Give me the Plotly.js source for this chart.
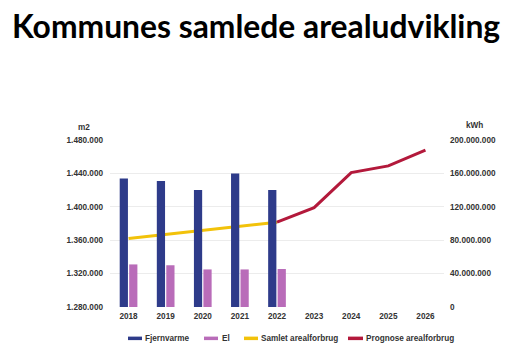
<!DOCTYPE html>
<html>
<head>
<meta charset="utf-8">
<script src="https://cdn.plot.ly/plotly-3.0.1.min.js"></script>
<style>html,body{margin:0;padding:0;background:#fff;}#chart{width:527px;height:353px;}</style>
</head>
<body>
<div id="chart"></div>
<script>
const years = ['2018','2019','2020','2021','2022','2023','2024','2025','2026'];
const barYears = ['2018','2019','2020','2021','2022'];
const fjernvarme = [154000000, 151000000, 140000000, 160000000, 140000000];
const el = [51000000, 50000000, 45000000, 45000000, 45500000];
const samletYears = ['2018','2019','2020','2021','2022'];
const samlet = [1362000, 1367000, 1372000, 1377000, 1381600];
const prognoseYears = ['2022','2023','2024','2025','2026'];
const prognose = [1381600, 1399000, 1441000, 1449000, 1468000];
const legendNames = ['Fjernvarme','El','Samlet arealforbrug','Prognose arealforbrug'];

const C = {fj:'#2E3B8A', el:'#B96CB9', sam:'#F2C20A', pro:'#B3193B'};
const tickFont = {family:'Liberation Sans, Arial, sans-serif', size:8.2, color:'#333', weight:'bold'};

const traces = [
  {type:'bar', x:barYears, y:fjernvarme, name:legendNames[0], marker:{color:C.fj}, yaxis:'y2'},
  {type:'bar', x:barYears, y:el, name:legendNames[1], marker:{color:C.el}, yaxis:'y2'},
  {type:'scatter', mode:'lines', x:samletYears, y:samlet, name:legendNames[2], line:{color:C.sam, width:3}},
  {type:'scatter', mode:'lines', x:prognoseYears, y:prognose, name:legendNames[3], line:{color:C.pro, width:3}}
];

// custom legend (pixel positions converted to paper coords)
const L = 110, R = 444, T = 140, B = 306.7;
const px = v => (v - L) / (R - L);
const py = v => (B - v) / (B - T);
const legendItems = [
  {x0:128, x1:142, tx:143, c:C.fj},
  {x0:204, x1:218, tx:220, c:C.el},
  {x0:244, x1:258, tx:259, c:C.sam},
  {x0:348, x1:363, tx:364, c:C.pro}
];
const legY = 338;
const shapes = legendItems.map(it => ({type:'line', xref:'paper', yref:'paper',
  x0:px(it.x0), x1:px(it.x1), y0:py(legY), y1:py(legY), line:{color:it.c, width:3.5}}));
const annotations = legendItems.map((it,i) => ({xref:'paper', yref:'paper', x:px(it.tx), y:py(legY),
  xanchor:'left', yanchor:'middle', showarrow:false, text:legendNames[i],
  font:tickFont}));
annotations.push({xref:'paper', yref:'paper', x:px(84), y:py(127.5), xanchor:'center', yanchor:'middle',
  showarrow:false, text:'m2', font:tickFont});
annotations.push({xref:'paper', yref:'paper', x:px(475), y:py(125.5), xanchor:'center', yanchor:'middle',
  showarrow:false, text:'kWh', font:tickFont});

const layout = {
  width:527, height:353,
  margin:{l:L, r:527-R, t:T, b:353-B},
  paper_bgcolor:'#fff', plot_bgcolor:'#fff',
  separators:',.',
  showlegend:false,
  barmode:'group', bargap:0.49, bargroupgap:0.13,
  title:{text:'<b>Kommunes samlede arealudvikling</b>', x:12/527, xanchor:'left', xref:'container',
    y:1-27/353, yanchor:'middle', yref:'container',
    font:{family:'Lato, sans-serif', size:31.8, color:'#000'}},
  xaxis:{type:'category', categoryorder:'array', categoryarray:years, range:[-0.5,8.5],
    showgrid:false, zeroline:false, showline:false, ticks:'', tickfont:tickFont, ticklabelstandoff:3},
  yaxis:{range:[1280000,1480000], tickvals:[1280000,1320000,1360000,1400000,1440000,1480000],
    tickformat:',d', showgrid:true, gridcolor:'#ececec', gridwidth:1, zeroline:false, showline:false,
    ticks:'', tickfont:tickFont, ticklabelstandoff:6},
  yaxis2:{overlaying:'y', side:'right', range:[0,200000000], tickvals:[0,40000000,80000000,120000000,160000000,200000000],
    tickformat:',d', showgrid:false, zeroline:false, showline:false, ticks:'', tickfont:tickFont, ticklabelstandoff:5},
  shapes:shapes,
  annotations:annotations
};

Plotly.newPlot('chart', traces, layout, {displayModeBar:false, staticPlot:true});
</script>
</body>
</html>
